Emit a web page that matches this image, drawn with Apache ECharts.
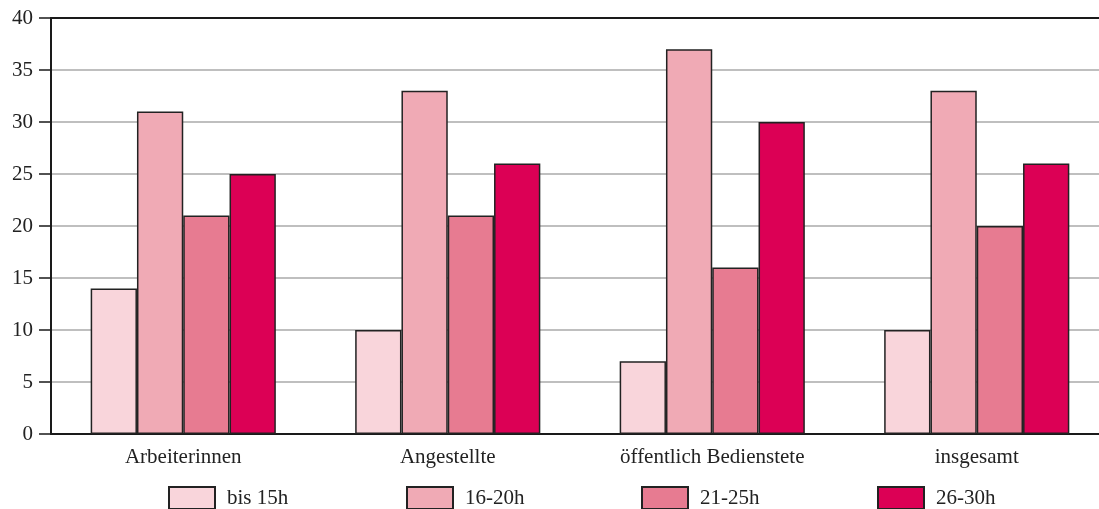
<!DOCTYPE html>
<html>
<head>
<meta charset="utf-8">
<script src="https://cdn.jsdelivr.net/npm/echarts@6/dist/echarts.min.js"></script>
<style>
  html, body { margin: 0; padding: 0; background: #fff; }
  #chart { width: 1099px; height: 509px; }
</style>
</head>
<body>
<div id="chart"></div>
<script>
const categories = ["Arbeiterinnen", "Angestellte", "öffentlich Bedienstete", "insgesamt"];
const seriesNames = ["bis 15h", "16-20h", "21-25h", "26-30h"];
const bis15 = [14, 10, 7, 10];
const h16to20 = [31, 33, 37, 33];
const h21to25 = [21, 21, 16, 20];
const h26to30 = [25, 26, 30, 26];
const yTicks = [0, 5, 10, 15, 20, 25, 30, 35, 40];

const seriesValues = [bis15, h16to20, h21to25, h26to30];
const seriesColors = ["#f9d5db", "#f0aab5", "#e77b91", "#dc0055"];
const legendLeft = [168, 406, 641, 877];

const font = "'Liberation Serif', 'DejaVu Serif', serif";
const chart = echarts.init(document.getElementById("chart"));

chart.setOption({
  animation: false,
  backgroundColor: "#fff",
  textStyle: { fontFamily: font },
  grid: { left: 51, width: 1058, top: 18, bottom: 75, outerBoundsMode: "none", containLabel: false },
  legend: seriesNames.map((name, i) => ({
    data: [name],
    left: legendLeft[i],
    top: 486,
    padding: 0,
    icon: "rect",
    itemWidth: 46,
    itemHeight: 22,
    itemGap: 0,
    textStyle: { fontFamily: font, fontSize: 21, color: "#222", padding: [0, 0, 0, 7] }
  })),
  xAxis: [
    {
      type: "category",
      data: categories,
      axisLine: { lineStyle: { color: "#1a1a1a", width: 2 } },
      axisTick: { show: false },
      axisLabel: { fontFamily: font, fontSize: 21, color: "#222", margin: 13 }
    },
    {
      type: "category",
      position: "top",
      data: categories,
      axisLine: { lineStyle: { color: "#1a1a1a", width: 2 } },
      axisTick: { show: false },
      axisLabel: { show: false }
    }
  ],
  yAxis: {
    type: "value",
    min: 0,
    max: 40,
    interval: 5,
    axisLine: { show: true, lineStyle: { color: "#1a1a1a", width: 2 } },
    axisTick: { show: true, length: 12, lineStyle: { color: "#1a1a1a", width: 1.5 } },
    axisLabel: {
      fontFamily: font, fontSize: 21, color: "#222", margin: 18,
      formatter: (v) => (yTicks.includes(v) ? String(v) : "")
    },
    splitLine: { lineStyle: { color: "#aaaaaa", width: 1.5 } }
  },
  series: seriesNames.map((name, i) => ({
    name,
    type: "bar",
    data: seriesValues[i],
    barGap: "0%",
    barCategoryGap: "30%",
    itemStyle: { color: seriesColors[i], borderColor: "#222", borderWidth: 1.5 }
  }))
});
</script>
</body>
</html>
